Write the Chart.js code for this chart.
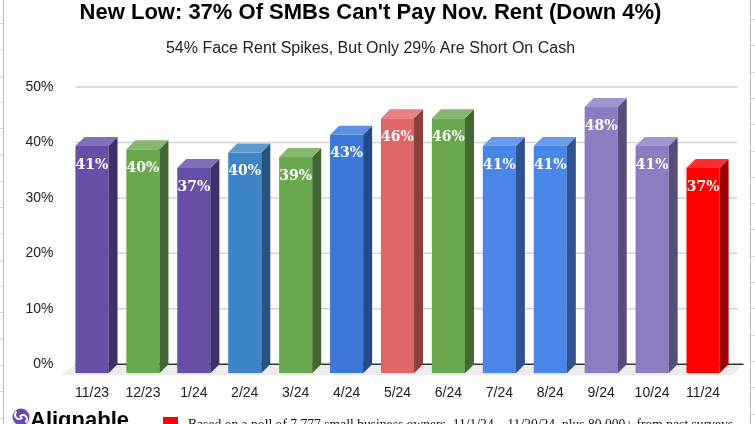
<!DOCTYPE html>
<html>
<head>
<meta charset="utf-8">
<script src="https://cdn.jsdelivr.net/npm/chart.js@4.4.1/dist/chart.umd.min.js"></script>
<style>
  html, body { margin: 0; padding: 0; width: 755px; height: 424px; overflow: hidden; background: #fff; }
  #c { position: absolute; left: 0; top: 0; }
</style>
</head>
<body>
<canvas id="c" width="755" height="424"></canvas>
<script>
// ---------- data ----------
const CATEGORIES = ['11/23', '12/23', '1/24', '2/24', '3/24', '4/24', '5/24', '6/24', '7/24', '8/24', '9/24', '10/24', '11/24'];
const VALUES = [41, 40.4, 37, 39.8, 39, 43, 46, 46, 41, 41, 48, 41, 37];
const Y_MIN = 0;
const Y_MAX = 50;
const Y_STEP = 10;
const TITLE = "New Low: 37% Of SMBs Can't Pay Nov. Rent (Down 4%)";
const SUBTITLE = '54% Face Rent Spikes, But Only 29% Are Short On Cash';
const FOOTNOTE = 'Based on a poll of 7,777 small business owners, 11/1/24 \u2013 11/20/24, plus 80,000+ from past surveys';
const BRAND = 'Alignable';

// ---------- styles ----------
const BAR_COLORS = ['#674ea7', '#6aa84f', '#674ea7', '#3d85c6', '#6aa84f', '#3c78d8', '#e06666',
                    '#6aa84f', '#4a86e8', '#4a86e8', '#8e7cc3', '#8e7cc3', '#ff0000'];
const SANS = '"Liberation Sans", Arial, sans-serif';
const SERIF = '"DejaVu Serif", "Liberation Serif", serif';
const DX = 9, DY = 9;

function shade(hex, f) {
  const n = parseInt(hex.slice(1), 16);
  let r = n >> 16, g = (n >> 8) & 255, b = n & 255;
  if (f < 0) { r *= 1 + f; g *= 1 + f; b *= 1 + f; }
  else { r += (255 - r) * f; g += (255 - g) * f; b += (255 - b) * f; }
  return 'rgb(' + Math.round(r) + ',' + Math.round(g) + ',' + Math.round(b) + ')';
}

const bar3d = {
  id: 'bar3d',
  beforeDraw(chart) {
    const ctx = chart.ctx, W = chart.width, H = chart.height;
    ctx.save();
    ctx.fillStyle = '#ffffff';
    ctx.fillRect(0, 0, W, H);
    ctx.strokeStyle = '#dadada';
    ctx.lineWidth = 1;
    for (let yy = 23; yy < H; yy += 26.3) {
      ctx.beginPath(); ctx.moveTo(0, Math.round(yy) + 0.5); ctx.lineTo(3, Math.round(yy) + 0.5); ctx.stroke();
    }
    for (let yy = 19; yy < H; yy += 26.3) {
      ctx.beginPath(); ctx.moveTo(751, Math.round(yy) + 0.5); ctx.lineTo(W, Math.round(yy) + 0.5); ctx.stroke();
    }
    ctx.strokeStyle = '#bdbdbd';
    ctx.beginPath(); ctx.moveTo(3.5, 0); ctx.lineTo(3.5, H); ctx.stroke();
    ctx.beginPath(); ctx.moveTo(750.5, 0); ctx.lineTo(750.5, H); ctx.stroke();
    ctx.restore();
  },
  beforeDatasetsDraw(chart) {
    const ctx = chart.ctx, a = chart.chartArea, y = chart.scales.y;
    const y0 = y.getPixelForValue(0);
    ctx.save();
    ctx.fillStyle = '#ececec';
    ctx.beginPath();
    ctx.moveTo(a.left - 6, y0 + DY + 2);
    ctx.lineTo(a.left + DX, y0);
    ctx.lineTo(a.right + DX + 6, y0);
    ctx.lineTo(a.right + 4, y0 + DY + 2);
    ctx.closePath();
    ctx.fill();
    ctx.strokeStyle = '#d3d3d3';
    ctx.lineWidth = 1.5;
    y.ticks.forEach(t => {
      if (t.value === 0) return;
      const py = y.getPixelForValue(t.value);
      ctx.beginPath(); ctx.moveTo(a.left + DX, py); ctx.lineTo(a.right + DX, py); ctx.stroke();
    });
    ctx.strokeStyle = '#333';
    ctx.lineWidth = 1.5;
    ctx.beginPath(); ctx.moveTo(a.left + DX, y0); ctx.lineTo(a.right + DX + 6, y0); ctx.stroke();
    ctx.restore();
  },
  beforeDatasetDraw(chart) {
    chart.ctx.save();
    chart.ctx.translate(0, DY);
  },
  afterDatasetDraw(chart, args) {
    const ctx = chart.ctx;
    ctx.restore();
    const meta = args.meta;
    ctx.save();
    meta.data.forEach((bar, i) => {
      const p = bar.getProps(['x', 'y', 'base', 'width'], true);
      const l = p.x - p.width / 2, r = p.x + p.width / 2;
      const col = BAR_COLORS[i % BAR_COLORS.length];
      ctx.fillStyle = shade(col, -0.38);
      ctx.beginPath();
      ctx.moveTo(r, p.y + DY);
      ctx.lineTo(r + DX, p.y);
      ctx.lineTo(r + DX, p.base);
      ctx.lineTo(r, p.base + DY);
      ctx.closePath();
      ctx.fill();
      ctx.fillStyle = shade(col, 0.18);
      ctx.beginPath();
      ctx.moveTo(l, p.y + DY);
      ctx.lineTo(l + DX, p.y);
      ctx.lineTo(r + DX, p.y);
      ctx.lineTo(r, p.y + DY);
      ctx.closePath();
      ctx.fill();
    });
    ctx.restore();
  },
  afterDatasetsDraw(chart) {
    const ctx = chart.ctx;
    const meta = chart.getDatasetMeta(0);
    const vals = chart.data.datasets[0].data;
    ctx.save();
    ctx.fillStyle = '#ffffff';
    ctx.font = 'bold 14px ' + SERIF;
    ctx.textAlign = 'center';
    ctx.textBaseline = 'middle';
    meta.data.forEach((bar, i) => {
      const p = bar.getProps(['x', 'y'], true);
      ctx.fillText(Math.round(vals[i]) + '%', p.x, p.y + DY + 19);
    });
    ctx.restore();
  },
  afterDraw(chart) {
    const ctx = chart.ctx;
    ctx.save();
    ctx.fillStyle = '#6b4bb0';
    ctx.beginPath(); ctx.arc(21, 417, 8.5, 0, Math.PI * 2); ctx.fill();
    ctx.strokeStyle = '#ffffff';
    ctx.lineWidth = 2;
    ctx.beginPath(); ctx.arc(19, 415, 4, Math.PI * 0.2, Math.PI * 1.3); ctx.stroke();
    ctx.beginPath(); ctx.arc(23, 419, 4, Math.PI * 1.2, Math.PI * 2.3); ctx.stroke();
    ctx.fillStyle = '#000';
    ctx.font = 'bold 22px ' + SANS;
    ctx.textAlign = 'left';
    ctx.textBaseline = 'alphabetic';
    ctx.fillText(BRAND, 30, 427);
    ctx.fillStyle = '#ff0000';
    ctx.fillRect(163, 417, 15, 15);
    ctx.fillStyle = '#111';
    ctx.font = '13.6px "Liberation Serif", "Times New Roman", serif';
    ctx.fillText(chart.data.datasets[0].label, 188, 429);
    ctx.restore();
  }
};

new Chart(document.getElementById('c'), {
  type: 'bar',
  data: {
    labels: CATEGORIES,
    datasets: [{
      label: FOOTNOTE,
      data: VALUES,
      backgroundColor: BAR_COLORS,
      borderWidth: 0,
      barPercentage: 0.65,
      categoryPercentage: 1
    }]
  },
  options: {
    responsive: false,
    animation: false,
    devicePixelRatio: 1,
    layout: { padding: { left: 12.5, right: 26.5, top: 0, bottom: 1 } },
    plugins: {
      legend: { display: false },
      tooltip: { enabled: false },
      title: {
        display: true, text: TITLE, color: '#000',
        font: { family: SANS, size: 22, weight: 'bold' },
        padding: { top: 0, bottom: 13 }
      },
      subtitle: {
        display: true, text: SUBTITLE, color: '#222',
        font: { family: SANS, size: 16, weight: 'normal' },
        padding: { top: 0, bottom: 28.4 }
      }
    },
    scales: {
      x: {
        grid: { display: false, drawTicks: false },
        border: { display: false },
        ticks: { color: '#222', font: { family: SANS, size: 14 }, padding: 21 }
      },
      y: {
        min: Y_MIN, max: Y_MAX,
        grid: { display: false, drawTicks: false },
        border: { display: false },
        ticks: { stepSize: Y_STEP, color: '#222', font: { family: SANS, size: 14 }, padding: 13,
                 callback: v => v + '%' }
      }
    }
  },
  plugins: [bar3d]
});
</script>
</body>
</html>
